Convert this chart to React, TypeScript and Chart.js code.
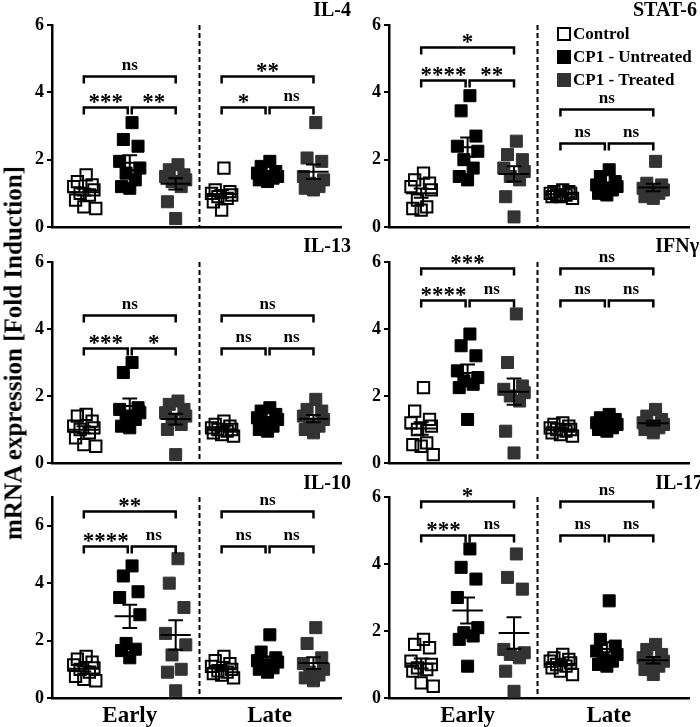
import React, { useEffect, useRef } from 'react';
import { Chart, registerables } from 'chart.js';

Chart.register(...registerables);

const FONT = "'Liberation Serif', 'Times New Roman', serif";

// ---------- categories / labels ----------
const groupLabels = ['Control', 'CP1 - Untreated', 'CP1 - Treated'];
const phaseLabels = ['Early', 'Late'];
const yTickValues = [0, 2, 4, 6];
const groupX = [1, 2, 3, 4, 5, 6]; // Early C/U/T, Late C/U/T
const panelTitles = ['IL-4', 'STAT-6', 'IL-13', 'IFNγ', 'IL-10', 'IL-17'];
const panelYMax = [6, 6, 6, 6, 7, 6];

// ---------- values: [Early C, Early U, Early T, Late C, Late U, Late T] ----------
const il4Values = [
  [1.55, 1.35, 1.25, 1.2, 1.1, 1.0, 0.95, 0.8, 0.6, 0.55],
  [3.1, 2.6, 2.4, 1.95, 1.75, 1.6, 1.4, 1.2, 1.15],
  [1.85, 1.7, 1.55, 1.5, 1.4, 1.35, 1.2, 0.75, 0.25],
  [1.75, 1.1, 1.05, 1.0, 0.95, 0.9, 0.85, 0.75, 0.5],
  [1.95, 1.8, 1.65, 1.6, 1.5, 1.5, 1.45, 1.4, 1.35],
  [3.1, 2.05, 1.95, 1.5, 1.4, 1.3, 1.2, 1.15, 1.1],
];
const stat6Values = [
  [1.6, 1.4, 1.3, 1.2, 1.1, 0.8, 0.6, 0.55, 0.5],
  [3.9, 3.45, 2.7, 2.4, 2.25, 2.0, 1.75, 1.5, 1.4],
  [2.55, 2.15, 2.0, 1.75, 1.65, 1.5, 1.4, 0.9, 0.3],
  [1.1, 1.05, 1.05, 1.0, 1.0, 0.95, 0.95, 0.9, 0.9, 0.85],
  [1.7, 1.5, 1.35, 1.25, 1.2, 1.15, 1.1, 1.0, 0.95],
  [1.95, 1.3, 1.25, 1.15, 1.1, 1.05, 1.0, 0.9, 0.85],
];
const il13Values = [
  [1.45, 1.4, 1.25, 1.1, 1.05, 1.0, 0.9, 0.75, 0.55, 0.5],
  [3.0, 2.7, 1.65, 1.6, 1.5, 1.4, 1.3, 1.1, 1.05],
  [1.85, 1.75, 1.6, 1.5, 1.4, 1.3, 1.15, 1.0, 0.25],
  [1.25, 1.15, 1.1, 1.05, 1.0, 1.0, 0.95, 0.9, 0.85, 0.8],
  [1.65, 1.55, 1.45, 1.35, 1.3, 1.2, 1.1, 1.0, 0.95],
  [1.9, 1.6, 1.55, 1.4, 1.3, 1.15, 1.1, 1.0, 0.9],
];
const ifngValues = [
  [2.25, 1.55, 1.3, 1.2, 1.1, 1.0, 0.6, 0.55, 0.5, 0.25],
  [3.85, 3.5, 3.2, 2.75, 2.55, 2.45, 2.35, 2.25, 1.3],
  [4.45, 3.0, 2.3, 2.2, 2.1, 2.0, 1.85, 0.95, 0.3],
  [1.2, 1.15, 1.1, 1.05, 1.0, 1.0, 0.95, 0.9, 0.85, 0.8],
  [1.45, 1.35, 1.3, 1.2, 1.15, 1.1, 1.05, 1.0, 0.95],
  [1.6, 1.4, 1.3, 1.2, 1.15, 1.1, 1.05, 1.0, 0.9],
];
const il10Values = [
  [1.45, 1.35, 1.25, 1.15, 1.05, 1.0, 0.9, 0.75, 0.65, 0.6],
  [4.6, 4.25, 3.7, 3.5, 2.9, 1.9, 1.7, 1.65, 1.4],
  [4.85, 4.0, 3.15, 2.25, 1.85, 1.5, 1.0, 0.9, 0.25],
  [1.45, 1.3, 1.2, 1.1, 1.0, 0.95, 0.9, 0.85, 0.8, 0.7],
  [2.2, 1.6, 1.4, 1.3, 1.25, 1.15, 1.05, 1.0, 0.9],
  [2.45, 1.9, 1.4, 1.2, 1.0, 0.9, 0.8, 0.7, 0.6],
];
const il17Values = [
  [1.75, 1.6, 1.5, 1.1, 1.0, 0.9, 0.85, 0.8, 0.45, 0.35],
  [4.45, 3.9, 3.55, 3.0, 2.1, 1.95, 1.85, 1.75, 0.95],
  [4.3, 3.6, 3.25, 1.45, 1.35, 1.3, 1.2, 0.8, 0.2],
  [1.3, 1.2, 1.15, 1.1, 1.05, 1.0, 0.95, 0.9, 0.8, 0.7],
  [2.9, 1.75, 1.55, 1.4, 1.3, 1.2, 1.1, 1.0, 0.95],
  [1.6, 1.45, 1.3, 1.2, 1.1, 1.0, 0.95, 0.85, 0.7],
];

// ---------- significance: [E C-U, E U-T, E C-T, L C-U, L U-T, L C-T] ----------
const il4Sig = ['***', '**', 'ns', '*', 'ns', '**'];
const stat6Sig = ['****', '**', '*', 'ns', 'ns', 'ns'];
const il13Sig = ['***', '*', 'ns', 'ns', 'ns', 'ns'];
const ifngSig = ['****', 'ns', '***', 'ns', 'ns', 'ns'];
const il10Sig = ['****', 'ns', '**', 'ns', 'ns', 'ns'];
const il17Sig = ['***', 'ns', '*', 'ns', 'ns', 'ns'];

// bracket heights (data units): [Early low, Early high, Late low, Late high]
const il4Brackets = [3.56, 4.5, 3.56, 4.5];
const stat6Brackets = [4.36, 5.35, 2.49, 3.51];
const il13Brackets = [3.44, 4.41, 3.44, 4.41];
const ifngBrackets = [4.86, 5.83, 4.86, 5.83];
const il10Brackets = [5.3, 6.5, 5.3, 6.5];
const il17Brackets = [4.87, 5.87, 4.87, 5.87];

const panelValues = [il4Values, stat6Values, il13Values, ifngValues, il10Values, il17Values];
const panelSig = [il4Sig, stat6Sig, il13Sig, ifngSig, il10Sig, il17Sig];
const panelBrackets = [il4Brackets, stat6Brackets, il13Brackets, ifngBrackets, il10Brackets, il17Brackets];

// horizontal spread pattern for the dot plot (layout only)
const jitter = [0.05, -0.14, 0.18, -0.22, 0.22, -0.08, 0.12, -0.18, 0.0, 0.26];

const groupFill = ['rgba(0,0,0,0)', '#000000', '#333333'];
const groupStroke = ['#000000', '#000000', '#333333'];

const layouts = [
  { left: 0, top: 0, w: 352, h: 245, yW: 52, padR: 0, xH: 18, xMax: 6.61, titleX: 351, titleY: 16 },
  { left: 350, top: 0, w: 350, h: 245, yW: 39, padR: 3, xH: 18, xMax: 6.78, titleX: 347, titleY: 16 },
  { left: 0, top: 237, w: 352, h: 245, yW: 52, padR: 0, xH: 19, xMax: 6.61, titleX: 351, titleY: 15 },
  { left: 350, top: 237, w: 350, h: 245, yW: 39, padR: 3, xH: 19, xMax: 6.78, titleX: 349, titleY: 15 },
  { left: 0, top: 472, w: 352, h: 255, yW: 52, padR: 0, xH: 29, xMax: 6.61, titleX: 351, titleY: 17 },
  { left: 350, top: 472, w: 350, h: 255, yW: 39, padR: 3, xH: 29, xMax: 6.78, titleX: 353, titleY: 17 },
];

function Panel({ idx }: { idx: number }) {
  const ref = useRef<HTMLCanvasElement | null>(null);
  const L = layouts[idx];

  useEffect(() => {
    const canvas = ref.current;
    if (!canvas) return;
    const values = panelValues[idx];
    const sig = panelSig[idx];
    const br = panelBrackets[idx];

    const datasets = values.map((vals, g) => {
      const k = g % 3;
      return {
        label: groupLabels[k] + ' ' + phaseLabels[Math.floor(g / 3)],
        data: vals.map((v, i) => ({ x: groupX[g] + jitter[i % jitter.length], y: v })),
        pointStyle: 'rect' as const,
        pointRadius: k === 0 ? 8 : 8.5,
        pointHoverRadius: 8.5,
        backgroundColor: groupFill[k],
        borderColor: groupStroke[k],
        borderWidth: k === 0 ? 2 : 1,
        showLine: false,
      };
    });

    const overlay = {
      id: 'overlay' + idx,
      beforeDatasetsDraw(chart: any) {
        const { ctx, chartArea, scales } = chart;
        const x = scales.x;
        ctx.save();
        ctx.strokeStyle = '#000';
        ctx.lineWidth = 2;
        ctx.setLineDash([5, 3]);
        const xd = Math.round(x.getPixelForValue(3.5)) + 0.5;
        ctx.beginPath();
        ctx.moveTo(xd, chartArea.top);
        ctx.lineTo(xd, chartArea.bottom);
        ctx.stroke();
        ctx.restore();
      },
      afterDatasetsDraw(chart: any) {
        const { ctx, scales } = chart;
        const x = scales.x;
        const y = scales.y;
        ctx.save();
        // mean +/- SEM
        values.forEach((vals, g) => {
          const n = vals.length;
          const mean = vals.reduce((a, b) => a + b, 0) / n;
          const sd = Math.sqrt(vals.reduce((a, b) => a + (b - mean) * (b - mean), 0) / (n - 1));
          const sem = sd / Math.sqrt(n);
          const cx = x.getPixelForValue(groupX[g]);
          const mw = x.getPixelForValue(groupX[g] + 0.33) - cx;
          const cw = x.getPixelForValue(groupX[g] + 0.16) - cx;
          const ym = y.getPixelForValue(mean);
          const yt = y.getPixelForValue(mean + sem);
          const yb = y.getPixelForValue(mean - sem);
          ctx.strokeStyle = '#000';
          ctx.lineWidth = 2;
          ctx.beginPath();
          ctx.moveTo(cx - mw, ym);
          ctx.lineTo(cx + mw, ym);
          ctx.moveTo(cx, yt);
          ctx.lineTo(cx, yb);
          ctx.moveTo(cx - cw, yt);
          ctx.lineTo(cx + cw, yt);
          ctx.moveTo(cx - cw, yb);
          ctx.lineTo(cx + cw, yb);
          ctx.stroke();
        });
        // significance brackets
        const drawBracket = (x1: number, x2: number, yv: number, label: string) => {
          const py = Math.round(y.getPixelForValue(yv)) + 0.5;
          ctx.strokeStyle = '#000';
          ctx.lineWidth = 2.5;
          ctx.beginPath();
          ctx.moveTo(x1, py + 7);
          ctx.lineTo(x1, py);
          ctx.lineTo(x2, py);
          ctx.lineTo(x2, py + 7);
          ctx.stroke();
          ctx.fillStyle = '#000';
          ctx.textAlign = 'center';
          ctx.textBaseline = 'alphabetic';
          const cxl = (x1 + x2) / 2;
          if (label.indexOf('*') >= 0) {
            ctx.font = 'bold 23px ' + FONT;
            ctx.fillText(label, cxl, py + 1);
          } else {
            ctx.font = 'bold 17px ' + FONT;
            ctx.fillText(label, cxl, py - 7);
          }
        };
        for (let p = 0; p < 2; p++) {
          const xc = x.getPixelForValue(groupX[p * 3]);
          const xu = x.getPixelForValue(groupX[p * 3 + 1]);
          const xt = x.getPixelForValue(groupX[p * 3 + 2]);
          drawBracket(xc, xu - 2, br[p * 2], sig[p * 3]);
          drawBracket(xu + 2, xt, br[p * 2], sig[p * 3 + 1]);
          drawBracket(xc, xt, br[p * 2 + 1], sig[p * 3 + 2]);
        }
        ctx.restore();
      },
      afterDraw(chart: any) {
        const { ctx, scales } = chart;
        const x = scales.x;
        ctx.save();
        ctx.fillStyle = '#000';
        ctx.font = 'bold 20px ' + FONT;
        ctx.textAlign = 'right';
        ctx.textBaseline = 'alphabetic';
        ctx.fillText(panelTitles[idx], L.titleX, L.titleY);
        if (idx === 1) {
          const rows = [34, 57, 80];
          ctx.font = 'bold 17px ' + FONT;
          ctx.textAlign = 'left';
          ctx.textBaseline = 'middle';
          groupLabels.forEach((lab, k) => {
            const s = 14;
            const bx = 207;
            const by = rows[k] - s / 2;
            if (k === 0) {
              ctx.strokeStyle = '#000';
              ctx.lineWidth = 2;
              ctx.strokeRect(bx + 1, by + 1, s - 2, s - 2);
            } else {
              ctx.fillStyle = groupFill[k];
              ctx.fillRect(bx, by, s, s);
            }
            ctx.fillStyle = '#000';
            ctx.fillText(lab, 223, rows[k] + 1);
          });
        }
        if (idx >= 4) {
          ctx.font = 'bold 23px ' + FONT;
          ctx.textAlign = 'center';
          ctx.textBaseline = 'alphabetic';
          ctx.fillText(phaseLabels[0], x.getPixelForValue(groupX[1]), 250);
          ctx.fillText(phaseLabels[1], x.getPixelForValue(groupX[4]) + 2, 250);
        }
        ctx.restore();
      },
    };

    const chart = new Chart(canvas, {
      type: 'scatter',
      data: { datasets },
      options: {
        responsive: false,
        maintainAspectRatio: false,
        devicePixelRatio: 1,
        animation: false,
        events: [],
        layout: { padding: { top: 25, right: L.padR, left: 0, bottom: 0 } },
        plugins: { legend: { display: false }, tooltip: { enabled: false }, title: { display: false } },
        scales: {
          x: {
            type: 'linear',
            min: 0.307,
            max: L.xMax,
            ticks: { display: false },
            grid: { display: false },
            border: { display: true, color: '#000', width: 2.5 },
            afterFit: (s: any) => {
              s.height = L.xH;
            },
          },
          y: {
            type: 'linear',
            min: 0,
            max: panelYMax[idx],
            afterBuildTicks: (s: any) => {
              s.ticks = yTickValues.map((v) => ({ value: v }));
            },
            ticks: { color: '#000', padding: 3, font: { family: FONT, size: 18, weight: 'bold' } },
            grid: { display: true, drawOnChartArea: false, drawTicks: true, tickLength: 5, color: '#000', lineWidth: 2 },
            border: { display: true, color: '#000', width: 2.5 },
            afterFit: (s: any) => {
              s.width = L.yW;
            },
          },
        },
      } as any,
      plugins: [overlay],
    });
    return () => chart.destroy();
  }, [idx]);

  return (
    <canvas
      ref={ref}
      width={L.w}
      height={L.h}
      style={{ position: 'absolute', left: L.left, top: L.top, width: L.w, height: L.h }}
    />
  );
}

export default function App() {
  return (
    <div style={{ position: 'absolute', left: 0, top: 0, width: 700, height: 727, background: '#fff', overflow: 'hidden' }}>
      {[0, 1, 2, 3, 4, 5].map((i) => (
        <Panel key={i} idx={i} />
      ))}
      <div
        style={{
          position: 'absolute',
          left: 13,
          top: 353,
          transform: 'translate(-50%, -50%) rotate(-90deg)',
          whiteSpace: 'nowrap',
          fontFamily: FONT,
          fontWeight: 'bold',
          fontSize: 25,
          lineHeight: 1,
          color: '#000',
        }}
      >
        mRNA expression [Fold Induction]
      </div>
    </div>
  );
}
